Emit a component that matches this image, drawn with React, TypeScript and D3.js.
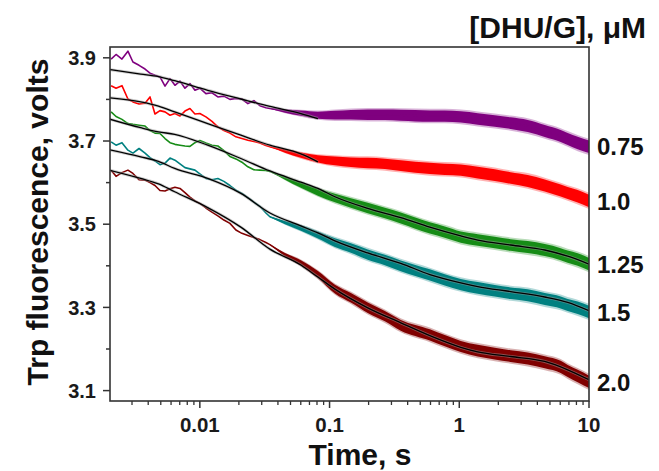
import React from "react";
import * as d3 from "d3";

// ---- data (time in s, signal in volts) ----
const T_EARLY = [0.00207, 0.00226, 0.00251, 0.00279, 0.00305, 0.0034, 0.00378, 0.00413, 0.00451, 0.00493,
  0.00539, 0.00589, 0.00643, 0.00703, 0.00768, 0.00839, 0.00917, 0.01, 0.01114, 0.0124,
  0.01377, 0.01533, 0.01706, 0.01897, 0.0211, 0.02347, 0.02611, 0.02904, 0.03231, 0.03467];
const T_LATE = [0.0347, 0.0453, 0.0601, 0.0813, 0.11, 0.146, 0.197, 0.267, 0.354, 0.593, 0.773,
  1.027, 1.388, 1.877, 2.49, 3.37, 4.56, 6.05, 6.85, 8.18, 10];
const NOISE = [0.0005, 0.004, 0.0065, 0.0085, 0.0105, 0.0115, 0.0125, 0.0125, 0.013, 0.0135, 0.0135,
  0.0135, 0.014, 0.014, 0.014, 0.0145, 0.0145, 0.0145, 0.0145, 0.015, 0.015];

const EARLY_075 = [3.897, 3.908, 3.897, 3.916, 3.89, 3.882, 3.873, 3.863, 3.858, 3.854, 3.832, 3.85, 3.834, 3.844, 3.827,
  3.838, 3.822, 3.827, 3.814, 3.816, 3.806, 3.808, 3.8, 3.802, 3.801, 3.79, 3.797, 3.785, 3.78, 3.778];
const EARLY_10 = [3.833, 3.827, 3.833, 3.801, 3.794, 3.789, 3.791, 3.806, 3.765, 3.773, 3.77, 3.762, 3.766, 3.76, 3.772,
  3.778, 3.765, 3.766, 3.758, 3.747, 3.734, 3.725, 3.719, 3.71, 3.706, 3.702, 3.699, 3.695, 3.689, 3.686];
const EARLY_125 = [3.77, 3.759, 3.752, 3.742, 3.74, 3.738, 3.736, 3.725, 3.719, 3.718, 3.706, 3.696, 3.692, 3.69, 3.688,
  3.687, 3.696, 3.701, 3.695, 3.69, 3.688, 3.677, 3.663, 3.657, 3.649, 3.638, 3.631, 3.63, 3.629, 3.627];
const EARLY_15 = [3.698, 3.69, 3.696, 3.678, 3.671, 3.682, 3.671, 3.66, 3.652, 3.643, 3.647, 3.659, 3.654, 3.645, 3.636,
  3.633, 3.63, 3.621, 3.61, 3.607, 3.61, 3.603, 3.593, 3.582, 3.574, 3.564, 3.553, 3.543, 3.527, 3.518];
const EARLY_20 = [3.63, 3.615, 3.624, 3.63, 3.622, 3.607, 3.606, 3.6, 3.593, 3.581, 3.58, 3.585, 3.589, 3.586, 3.576,
  3.565, 3.556, 3.55, 3.539, 3.529, 3.52, 3.51, 3.502, 3.486, 3.478, 3.473, 3.468, 3.463, 3.456, 3.451];

const LATE_075 = [3.778, 3.772, 3.767, 3.762, 3.762, 3.763, 3.763, 3.763, 3.762, 3.76, 3.76, 3.758, 3.753, 3.748, 3.743,
  3.736, 3.724, 3.712, 3.705, 3.695, 3.686];
const LATE_10 = [3.686, 3.676, 3.666, 3.657, 3.652, 3.649, 3.647, 3.645, 3.641, 3.634, 3.632, 3.63, 3.624, 3.618, 3.611,
  3.604, 3.593, 3.581, 3.575, 3.567, 3.556];
const LATE_125 = [3.627, 3.611, 3.594, 3.577, 3.563, 3.551, 3.539, 3.527, 3.515, 3.491, 3.481, 3.469, 3.462, 3.456, 3.45,
  3.445, 3.438, 3.428, 3.422, 3.415, 3.404];
const LATE_15 = [3.518, 3.504, 3.491, 3.474, 3.456, 3.443, 3.427, 3.414, 3.4, 3.378, 3.366, 3.355, 3.347, 3.34, 3.334,
  3.329, 3.32, 3.312, 3.306, 3.299, 3.289];
const LATE_20 = [3.451, 3.427, 3.407, 3.379, 3.344, 3.323, 3.299, 3.279, 3.257, 3.234, 3.22, 3.206, 3.196, 3.189, 3.183,
  3.177, 3.168, 3.157, 3.147, 3.135, 3.121];

const FIT_T = [0.002, 0.0035, 0.0048, 0.0064, 0.0115, 0.0207, 0.0347, 0.0601, 0.0813, 0.11, 0.197, 0.354, 0.593,
  1.027, 1.388, 2.49, 4.56, 6.85, 10];
const FIT_075 = [3.872, 3.861, 3.855, 3.845, 3.822, 3.801, 3.783, 3.766, 3.754];
const FIT_10 = [3.804, 3.794, 3.784, 3.77, 3.742, 3.714, 3.69, 3.669, 3.65];
const FIT_125 = [3.753, 3.732, 3.722, 3.716, 3.69, 3.658, 3.628, 3.601, 3.586, 3.566, 3.538, 3.516, 3.493, 3.472,
  3.462, 3.45, 3.438, 3.423, 3.404];
const FIT_15 = [3.679, 3.662, 3.651, 3.634, 3.61, 3.574, 3.527, 3.496, 3.479, 3.46, 3.431, 3.406, 3.379, 3.359,
  3.35, 3.338, 3.325, 3.312, 3.292];
const FIT_20 = [3.63, 3.61, 3.597, 3.578, 3.54, 3.493, 3.44, 3.402, 3.373, 3.344, 3.299, 3.263, 3.232, 3.204,
  3.193, 3.182, 3.17, 3.15, 3.126];

const CONC_LABELS = ["0.75", "1.0", "1.25", "1.5", "2.0"];
const COLORS = ["#7f007f", "#ff0000", "#168c16", "#008080", "#800000"];
const EARLY = [EARLY_075, EARLY_10, EARLY_125, EARLY_15, EARLY_20];
const LATE = [LATE_075, LATE_10, LATE_125, LATE_15, LATE_20];
const FITS = [FIT_075, FIT_10, FIT_125, FIT_15, FIT_20];

const X_MAJOR = [0.01, 0.1, 1, 10];
const X_MAJOR_LABELS = ["0.01", "0.1", "1", "10"];
const Y_MAJOR = [3.1, 3.3, 3.5, 3.7, 3.9];
const Y_MINOR = [3.2, 3.4, 3.6, 3.8];

const W = 659, H = 471;
const L = 110, R = 589, T = 47, B = 401;
const FONT = "'Liberation Sans', Arial, Helvetica, sans-serif";

export default function App() {
  const x = d3.scaleLog().domain([0.00203, 10]).range([L, R]);
  const y = d3.scaleLinear().domain([3.075, 3.926]).range([B, T]);

  const line = d3.line<[number, number]>().x(d => x(d[0])).y(d => y(d[1]));
  const fitLine = d3.line<[number, number]>().x(d => x(d[0])).y(d => y(d[1])).curve(d3.curveMonotoneX);
  const band = (k: number) => d3.area<[number, number, number]>()
    .x(d => x(d[0])).y0(d => y(d[1] - d[2] * k)).y1(d => y(d[1] + d[2] * k)).curve(d3.curveMonotoneX);

  const xMinor = x.ticks().filter(t => !X_MAJOR.some(m => Math.abs(m - t) / m < 1e-6) && t >= 0.00203);

  return (
    <svg width={W} height={H} style={{ position: "absolute", left: 0, top: 0, background: "#fff" }}
      fontFamily={FONT} fontWeight="bold">
      <defs>
        <clipPath id="plotclip"><rect x={L} y={T} width={R - L} height={B - T} /></clipPath>
      </defs>
      <rect x={0} y={0} width={W} height={H} fill="#fff" />
      <g clipPath="url(#plotclip)">
        {COLORS.map((c, i) => {
          const pts: [number, number][] = [
            ...T_EARLY.map((t, j) => [t, EARLY[i][j]] as [number, number]),
            ...T_LATE.slice(1).map((t, j) => [t, LATE[i][j + 1]] as [number, number]),
          ];
          const bandPts: [number, number, number][] = T_LATE.map((t, j) => [t, LATE[i][j], NOISE[j]]);
          return (
            <g key={i}>
              <path d={band(1.3)(bandPts) || ""} fill={c} fillOpacity={0.3} />
              <path d={band(1)(bandPts) || ""} fill={c} />
              <path d={line(pts) || ""} fill="none" stroke={c} strokeWidth={1.6} strokeLinejoin="round" />
            </g>
          );
        })}
        {FITS.map((f, i) => {
          const pts: [number, number][] = f.map((v, j) => [FIT_T[j], v]);
          return (
            <g key={i}>
              <path d={fitLine(pts) || ""} fill="none" stroke="#999" strokeOpacity={0.5} strokeWidth={3} />
              <path d={fitLine(pts) || ""} fill="none" stroke="#000" strokeWidth={1.3} />
            </g>
          );
        })}
      </g>

      <rect x={L} y={T} width={R - L} height={B - T} fill="none" stroke="#333" strokeWidth={1.6} />

      {Y_MAJOR.map(v => (
        <g key={v}>
          <line x1={L - 7} x2={L} y1={y(v)} y2={y(v)} stroke="#333" strokeWidth={1.5} />
          <text x={L - 14} y={y(v)} dy="0.36em" textAnchor="end" fontSize={20} fill="#1a1a1a">{v.toFixed(1)}</text>
        </g>
      ))}
      {Y_MINOR.map(v => (
        <line key={v} x1={L - 4} x2={L} y1={y(v)} y2={y(v)} stroke="#333" strokeWidth={1.5} />
      ))}
      {X_MAJOR.map((t, i) => (
        <g key={t}>
          <line x1={x(t)} x2={x(t)} y1={B} y2={B + 7} stroke="#333" strokeWidth={1.5} />
          <text x={x(t)} y={432} textAnchor="middle" fontSize={20.5} fill="#1a1a1a">{X_MAJOR_LABELS[i]}</text>
        </g>
      ))}
      {xMinor.map(t => (
        <line key={t} x1={x(t)} x2={x(t)} y1={B} y2={B + 4} stroke="#333" strokeWidth={1.3} />
      ))}

      {CONC_LABELS.map((lab, i) => (
        <text key={lab} x={597} y={y(LATE[i][LATE[i].length - 1])} dy="0.36em" fontSize={24} fill="#111">{lab}</text>
      ))}

      <text x={646} y={38} textAnchor="end" fontSize={30} fill="#111">[DHU/G], μM</text>
      <text x={360} y={465} textAnchor="middle" fontSize={30} fill="#111">Time, s</text>
      <text transform={`translate(48, ${(T + B) / 2 - 2}) rotate(-90)`} textAnchor="middle" fontSize={30} fill="#111">
        Trp fluorescence, volts
      </text>
    </svg>
  );
}
